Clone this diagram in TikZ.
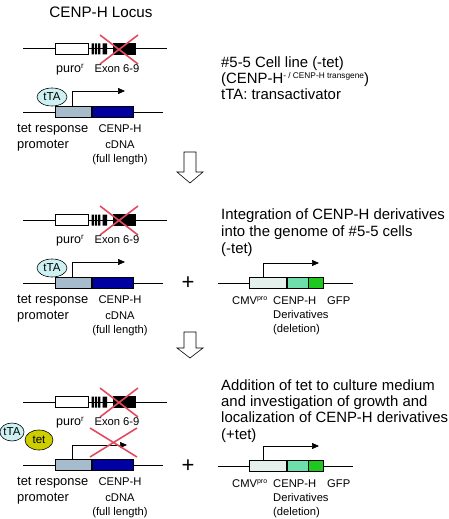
\documentclass[tikz,border=0pt]{standalone}
\usepackage{fontspec}
\setmainfont{Liberation Sans}
\usetikzlibrary{arrows.meta,shapes.geometric}
\definecolor{tregray}{RGB}{166,187,203}
\definecolor{cdnablue}{RGB}{0,0,160}
\definecolor{ttafill}{RGB}{205,240,242}
\definecolor{tetfill}{RGB}{205,205,0}
\definecolor{cmvfill}{RGB}{228,240,236}
\definecolor{derivfill}{RGB}{110,222,170}
\definecolor{gfpfill}{RGB}{30,200,30}
\definecolor{xred}{RGB}{226,75,95}
\tikzset{
  dna/.style={line width=1pt},
  boxst/.style={draw, line width=0.6pt, inner sep=0pt, minimum height=11pt},
  lab/.style={font=\fontsize{11.2}{12}\selectfont, inner sep=0pt},
  biglab/.style={font=\fontsize{12.9}{14}\selectfont, inner sep=0pt},
  txt/.style={font=\fontsize{14.9}{16}\selectfont, inner sep=0pt, anchor=base west},
  prom/.style={line width=0.7pt, -{Triangle[length=7pt,width=6pt]}},
  cross/.style={xred, line width=1.6pt},
  bigarrow/.style={draw, line width=0.6pt, fill=white},
  ell/.style={ellipse, draw, line width=0.6pt, inner sep=0pt, font=\fontsize{11.5}{12}\selectfont},
  plus/.style={font=\fontsize{22}{24}\selectfont, inner sep=0pt},
}
\newcommand\locusrows[2]{%
\begin{scope}[shift={(0,#1)}]
  \coordinate (#2a1) at (23,0);
  \coordinate (#2a2) at (167,0);
  \draw[dna] (#2a1) -- (#2a2);
  \node[boxst, fill=white, minimum width=33pt] (#2puro) at (71.5,0) {};
  \fill (91.5,-5.5) rectangle (93.8,5.5) (94.8,-5.5) rectangle (97.1,5.5)
        (98.1,-5.5) rectangle (100.4,5.5) (102.5,-5.5) rectangle (107,5.5);
  \node[boxst, fill=black, minimum width=22pt] (#2exon) at (124,0) {};
  \draw[cross] (100,-14) -- (138,15) (138,-14) -- (100,15);
  \node[font=\fontsize{12.5}{14}\selectfont, inner sep=0pt, anchor=base] (#2purol) at (70,23.5) {puro{\fontsize{8}{9}\selectfont\raisebox{4.5pt}{r}}};
  \node[lab, anchor=base] (#2exonl) at (117,23.5) {Exon 6-9};
  \coordinate (#2b1) at (23,63);
  \coordinate (#2b2) at (163,63);
  \draw[dna] (#2b1) -- (#2b2);
  \node[boxst, fill=tregray, minimum width=36pt, anchor=west] (#2tre) at (55,63) {};
  \node[boxst, fill=cdnablue, minimum width=41pt, anchor=west] (#2cdna) at (#2tre.east) {};
  \node[biglab, anchor=base west] (#2tl1) at (17,83.5) {tet response};
  \node[biglab, anchor=base west] (#2tl2) at (17,99.5) {promoter};
  \node[lab, anchor=base] (#2cl1) at (120,83) {CENP-H};
  \node[lab, anchor=base] (#2cl2) at (120,99) {cDNA};
  \node[lab, anchor=base] (#2cl3) at (120,113) {(full length)};
\end{scope}}
\newcommand\cmvrow[2]{%
\begin{scope}[shift={(0,#1)}]
  \coordinate (#2c1) at (218,0);
  \coordinate (#2c2) at (353,0);
  \draw[dna] (#2c1) -- (#2c2);
  \node[boxst, fill=cmvfill, minimum width=37pt, anchor=west] (#2cmv) at (249,0) {};
  \node[boxst, fill=derivfill, minimum width=21pt, anchor=west] (#2der) at (#2cmv.east) {};
  \node[boxst, fill=gfpfill, minimum width=15pt, anchor=west] (#2gfp) at (#2der.east) {};
  \coordinate (#2tip) at (319,-20);
  \draw[prom] ([xshift=14pt]#2cmv.north west) |- (#2tip);
  \node[lab, anchor=base west] (#2l1) at (232,21) {CMV{\fontsize{7}{8}\selectfont\raisebox{3.5pt}{pro}}};
  \node[lab, anchor=base west] (#2l2) at (273,21) {CENP-H};
  \node[lab, anchor=base west] (#2l3) at (327,21) {GFP};
  \node[lab, anchor=base west] (#2l4) at (273,35) {Derivatives};
  \node[lab, anchor=base west] (#2l5) at (273,49) {(deletion)};
\end{scope}}
\begin{document}
\begin{tikzpicture}[x=1pt,y=-1pt]
\useasboundingbox (0,0) rectangle (448,519);
% title
\node[font=\fontsize{15.2}{16}\selectfont, inner sep=0pt, anchor=base] (title) at (101,17.5) {CENP-H Locus};

% ---- section 1
\locusrows{49}{s1}
\coordinate (s1tip) at (125,91);
\draw[prom] ([xshift=17pt]s1tre.north west) |- (s1tip);
\node[ell, fill=ttafill, minimum width=30pt, minimum height=18pt] (s1tta) at (52,97) {tTA};
\node[txt] (s1t1) at (221,67) {\#5-5 Cell line (-tet)};
\node[txt] (s1t2) at (221,83) {(CENP-H{\fontsize{8.3}{9}\selectfont\raisebox{4.6pt}{- / CENP-H transgene}})};
\node[txt] (s1t3) at (221,99) {tTA: transactivator};

% arrow 1
\draw[bigarrow] (184,152) -- (196,152) -- (196,172) -- (203,172) -- (190,183) -- (177,172) -- (184,172) -- cycle;

% ---- section 2
\locusrows{220}{s2}
\coordinate (s2tip) at (125,262);
\draw[prom] ([xshift=17pt]s2tre.north west) |- (s2tip);
\node[ell, fill=ttafill, minimum width=30pt, minimum height=18pt] (s2tta) at (52,268) {tTA};
\node[plus] (s2plus) at (188,283) {+};
\node[txt] (s2t1) at (221,219) {Integration of CENP-H derivatives};
\node[txt] (s2t2) at (221,236) {into the genome of \#5-5 cells};
\node[txt] (s2t3) at (221,253) {(-tet)};
\cmvrow{283}{c2}

% arrow 2
\draw[bigarrow] (184,332) -- (196,332) -- (196,348) -- (203,348) -- (190,358) -- (177,348) -- (184,348) -- cycle;

% ---- section 3
\locusrows{402}{s3}
\coordinate (s3tip) at (127,445);
\draw[prom] ([xshift=17pt]s3tre.north west) |- (s3tip);
\draw[cross] (90,428) -- (137,457) (137,428) -- (90,457);
\node[ell, fill=ttafill, minimum width=24pt, minimum height=18pt] (s3tta) at (12,432) {tTA};
\node[ell, fill=tetfill, minimum width=28pt, minimum height=20pt] (s3tet) at (39,440) {tet};
\node[plus] (s3plus) at (188,466) {+};
\node[txt] (s3t1) at (221,390) {Addition of tet to culture medium};
\node[txt] (s3t2) at (221,406) {and investigation of growth and};
\node[txt] (s3t3) at (221,422) {localization of CENP-H derivatives};
\node[txt] (s3t4) at (221,439) {(+tet)};
\cmvrow{466}{c3}
\end{tikzpicture}
\end{document}
